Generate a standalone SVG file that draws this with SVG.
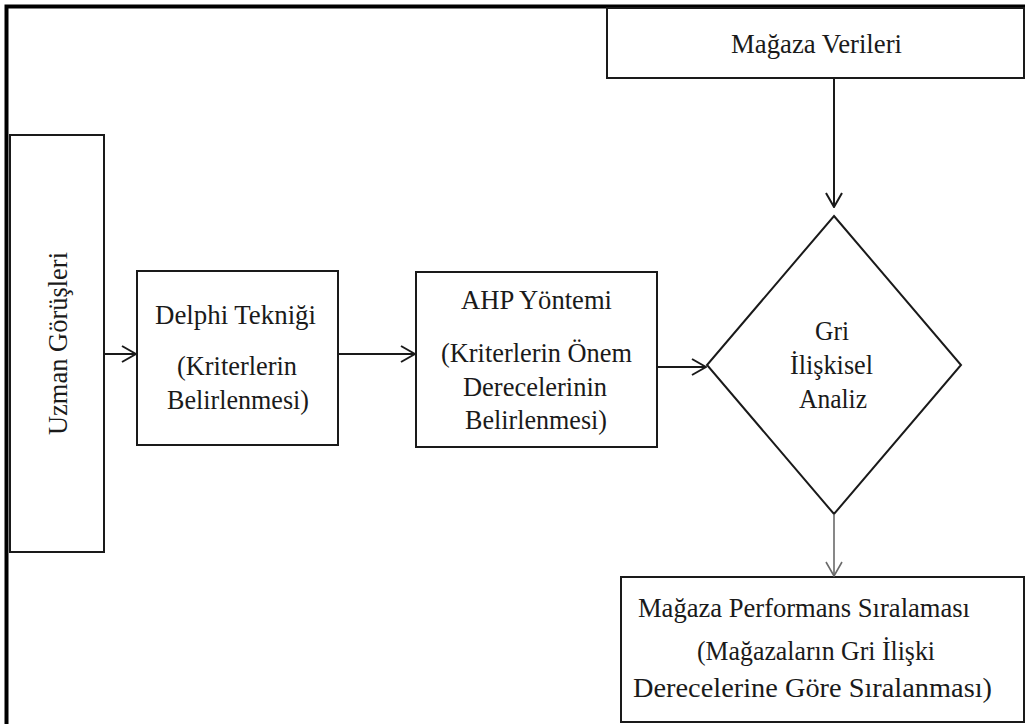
<svg xmlns="http://www.w3.org/2000/svg" width="1025" height="724" viewBox="0 0 1025 724">
  <style>
    .box { fill: #ffffff; stroke: #1a1a1a; stroke-width: 2; }
    .frame { fill: none; stroke: #000000; stroke-width: 4; }
    .lbl { font-family: "Liberation Serif", "Times New Roman", serif; font-size: 27px; fill: #1a1a1a; }
    .conn { fill: none; stroke: #1a1a1a; stroke-width: 2; }
    .conn-light { fill: none; stroke: #6a6a6a; stroke-width: 1.6; }
  </style>
  <defs>
    <marker id="open" viewBox="0 0 16 18" refX="15" refY="9" markerWidth="16" markerHeight="18" markerUnits="userSpaceOnUse" orient="auto">
      <path d="M1,1 L15,9 L1,17" fill="none" stroke="#1a1a1a" stroke-width="2"/>
    </marker>
    <marker id="open-light" viewBox="0 0 16 18" refX="15" refY="9" markerWidth="16" markerHeight="18" markerUnits="userSpaceOnUse" orient="auto">
      <path d="M1,1 L15,9 L1,17" fill="none" stroke="#6a6a6a" stroke-width="1.6"/>
    </marker>
  </defs>

  <rect width="1025" height="724" fill="#ffffff"/>

  <!-- page frame -->
  <rect class="frame" x="6.5" y="6.5" width="1030" height="730"/>

  <g id="magaza-verileri">
    <rect class="box" x="607" y="8" width="417" height="70"/>
    <text class="lbl" x="731" y="53" textLength="171" lengthAdjust="spacingAndGlyphs">Mağaza Verileri</text>
  </g>

  <g id="uzman-gorusleri">
    <rect class="box" x="10" y="135" width="94" height="417"/>
    <text class="lbl" transform="translate(67,435) rotate(-90)" x="0" y="0" textLength="183" lengthAdjust="spacingAndGlyphs">Uzman Görüşleri</text>
  </g>

  <g id="delphi">
    <rect class="box" x="137" y="271" width="201" height="174"/>
    <text class="lbl" x="155" y="324" textLength="161" lengthAdjust="spacingAndGlyphs">Delphi Tekniği</text>
    <text class="lbl" x="177" y="375" textLength="120" lengthAdjust="spacingAndGlyphs">(Kriterlerin</text>
    <text class="lbl" x="167" y="409" textLength="142" lengthAdjust="spacingAndGlyphs">Belirlenmesi)</text>
  </g>

  <g id="ahp">
    <rect class="box" x="416" y="272" width="241" height="175"/>
    <text class="lbl" x="461" y="309" textLength="151" lengthAdjust="spacingAndGlyphs">AHP Yöntemi</text>
    <text class="lbl" x="441" y="362" textLength="191" lengthAdjust="spacingAndGlyphs">(Kriterlerin Önem</text>
    <text class="lbl" x="463" y="396" textLength="144" lengthAdjust="spacingAndGlyphs">Derecelerinin</text>
    <text class="lbl" x="465" y="429" textLength="142" lengthAdjust="spacingAndGlyphs">Belirlenmesi)</text>
  </g>

  <g id="gri-iliskisel-analiz">
    <polygon class="box" points="834,216 961,365 834,514 707,365"/>
    <text class="lbl" x="815" y="340" textLength="34" lengthAdjust="spacingAndGlyphs">Gri</text>
    <text class="lbl" x="790" y="374" textLength="83" lengthAdjust="spacingAndGlyphs">İlişkisel</text>
    <text class="lbl" x="799" y="408" textLength="68" lengthAdjust="spacingAndGlyphs">Analiz</text>
  </g>

  <g id="performans">
    <rect class="box" x="621" y="577" width="403" height="145"/>
    <text class="lbl" x="638" y="617" textLength="332" lengthAdjust="spacingAndGlyphs">Mağaza Performans Sıralaması</text>
    <text class="lbl" x="697" y="660" textLength="238" lengthAdjust="spacingAndGlyphs">(Mağazaların Gri İlişki</text>
    <text class="lbl" x="633" y="697" textLength="359" lengthAdjust="spacingAndGlyphs">Derecelerine Göre Sıralanması)</text>
  </g>

  <g id="connectors">
    <line class="conn" x1="104" y1="354" x2="136" y2="354" marker-end="url(#open)"/>
    <line class="conn" x1="338" y1="354" x2="415" y2="354" marker-end="url(#open)"/>
    <line class="conn" x1="657" y1="367" x2="706" y2="367" marker-end="url(#open)"/>
    <line class="conn" x1="834" y1="78" x2="834" y2="207" marker-end="url(#open)"/>
    <line class="conn-light" x1="834" y1="514" x2="834" y2="576" marker-end="url(#open-light)"/>
  </g>
</svg>
